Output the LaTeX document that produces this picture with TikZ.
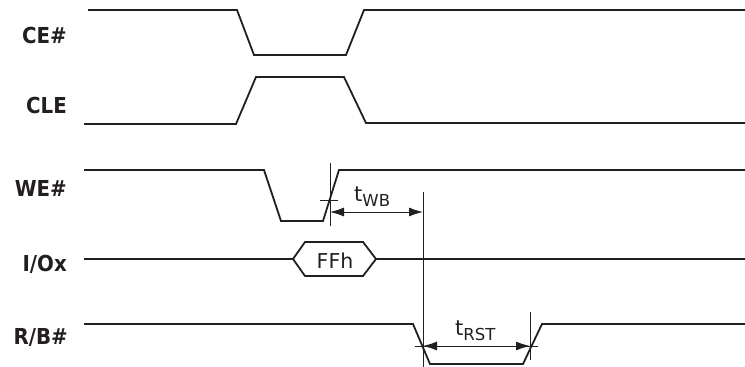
\documentclass[tikz,border=0pt]{standalone}
\usepackage{fontspec}
\setmainfont{DejaVu Sans}
\newfontfamily\lblfont{DejaVu Sans Condensed}
\usetikzlibrary{arrows.meta}
\definecolor{ink}{HTML}{231F20}
\tikzset{
  sig/.style={draw=ink, line width=1.8pt, line join=miter},
  guide/.style={draw=ink, line width=0.8pt},
  dim/.style={draw=ink, line width=0.9pt, {Latex[length=14pt,width=9pt]}-{Latex[length=14pt,width=9pt]}},
  lbl/.style={anchor=base east, inner sep=0pt, font=\lblfont\fontsize{22}{22}\selectfont\bfseries, text=ink},
  tlbl/.style={anchor=base west, inner sep=0pt, font=\fontsize{21}{21}\selectfont, text=ink}
}
\newcommand{\subtxt}[1]{\raisebox{-5pt}{\fontsize{16.5}{16.5}\selectfont #1}}
\begin{document}
\begin{tikzpicture}[x=1pt,y=-1pt]
\useasboundingbox (0,0) rectangle (745,367);
% labels
\node[lbl] (lce) at (67,43) {CE\#};
\node[lbl] (lcle) at (67,113) {CLE};
\node[lbl] (lwe) at (67,196) {WE\#};
\node[lbl] (lio) at (67,271) {I/Ox};
\node[lbl] (lrb) at (68,344) {R/B\#};
% CE#
\draw[sig] (88,10) -- (237,10) -- (254,55) -- (346,55) -- (364,10) -- (745,10);
% CLE
\draw[sig] (84,124) -- (236,124) -- (256,77) -- (344,77) -- (366,123) -- (745,123);
% WE#
\draw[sig] (84,170) -- (264,170) -- (281,221) -- (323,221) -- (339,170) -- (745,170);
% I/Ox
\draw[sig] (84,259) -- (293,259);
\draw[sig] (293,259) -- (305,242) -- (363,242) -- (376,259) -- (363,276) -- (305,276) -- cycle;
\draw[sig] (376,259) -- (745,259);
\node[inner sep=0pt, anchor=base, font=\fontsize{20.5}{21}\selectfont, text=ink] (ffh) at (335,268) {FFh};
% R/B#
\draw[sig] (84,324) -- (413,324) -- (430,364) -- (523,364) -- (542,324) -- (745,324);
% tWB
\coordinate (weA) at (330,163);
\coordinate (weB) at (330,226);
\draw[guide] (weA) -- (weB);
\draw[guide] (320,200) -- (338,200);
\coordinate (rbA) at (423,192);
\coordinate (rbB) at (423,367);
\draw[guide] (rbA) -- (rbB);
\coordinate (twbL) at (330,212);
\coordinate (twbR) at (423,212);
\draw[dim] (twbL) -- (twbR);
\node[tlbl] (twb) at (354,201) {t\subtxt{WB}};
% tRST
\coordinate (rsA) at (530,312);
\coordinate (rsB) at (530,360);
\draw[guide] (rsA) -- (rsB);
\draw[guide] (415,346) -- (538,346);
\coordinate (trL) at (423,346);
\coordinate (trR) at (530,346);
\draw[dim] (trL) -- (trR);
\node[tlbl] (trst) at (455,335) {t\subtxt{RST}};
\end{tikzpicture}
\end{document}
